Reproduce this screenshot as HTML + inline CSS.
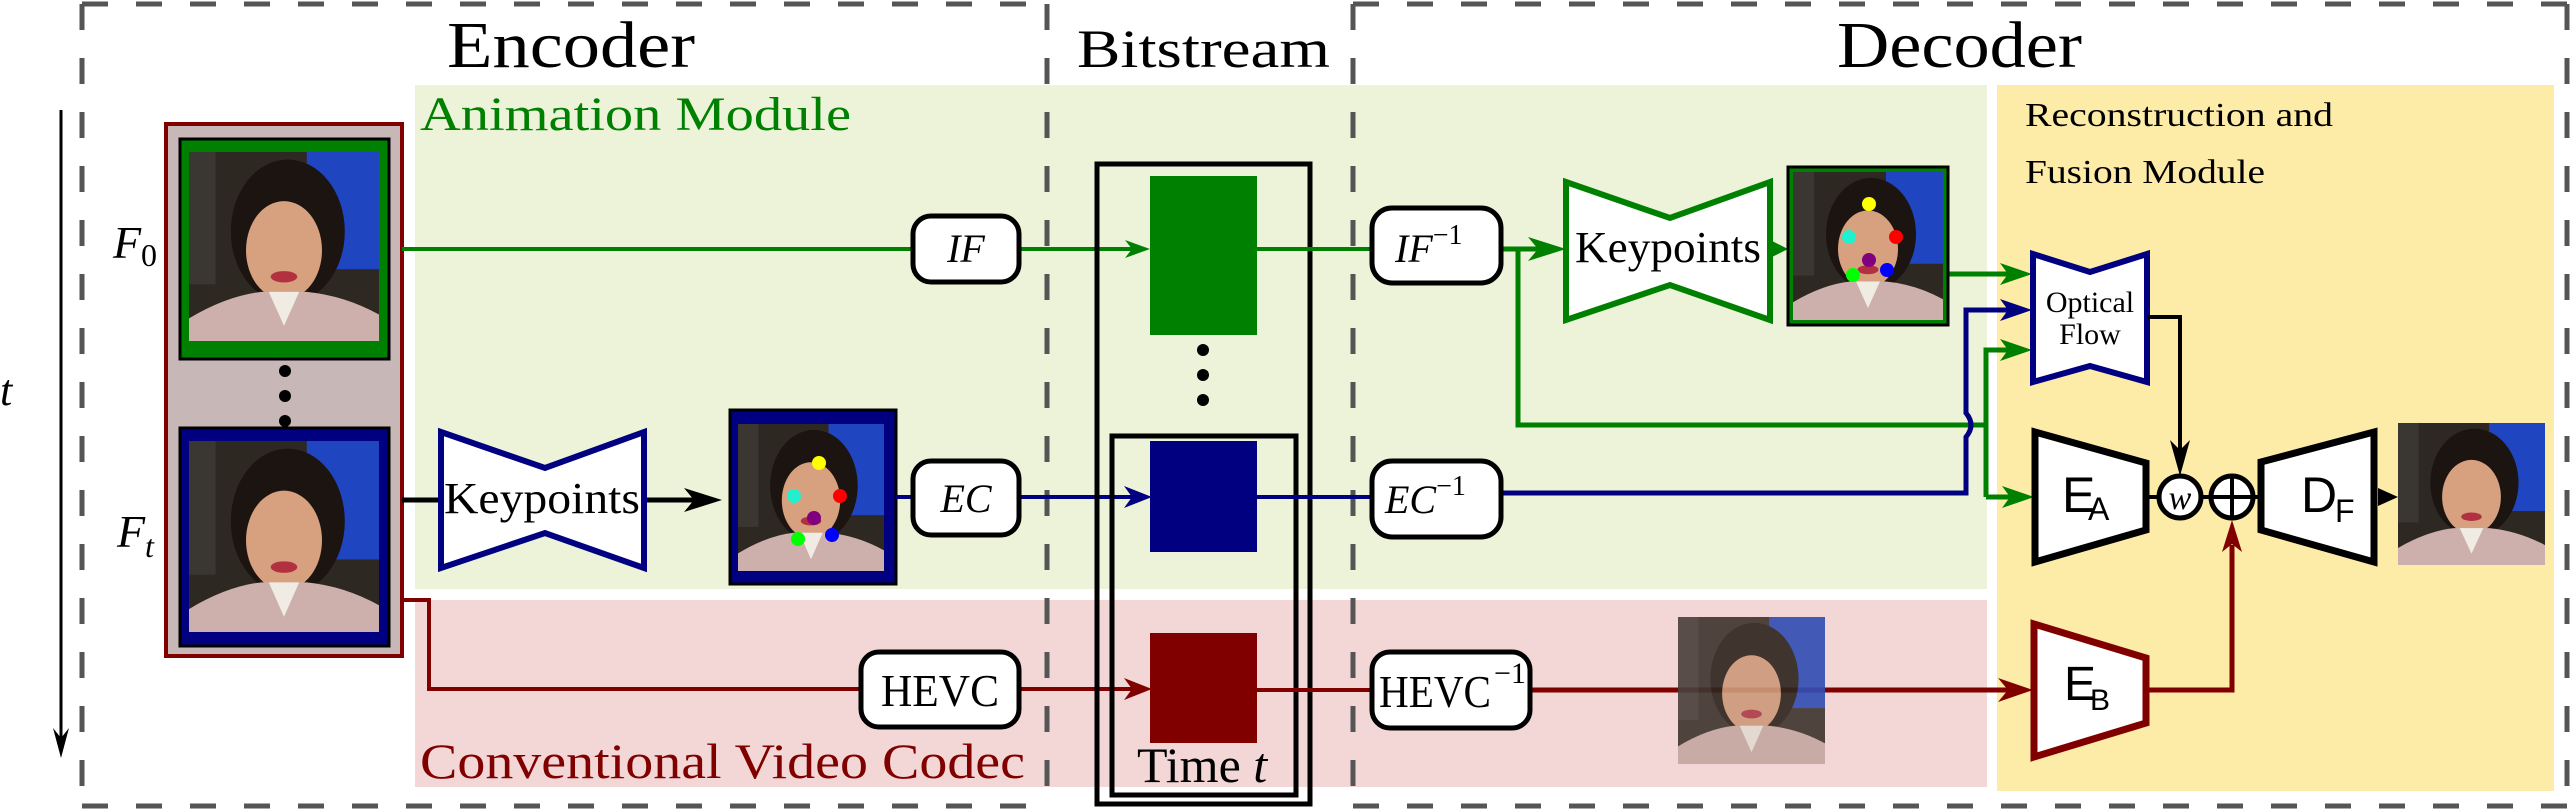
<!DOCTYPE html>
<html><head><meta charset="utf-8"><style>
html,body{margin:0;padding:0;background:#fff;}
svg{display:block;}
text{font-family:"Liberation Serif",serif;}
.sans{font-family:"Liberation Sans",sans-serif;}
</style></head><body>
<svg width="2570" height="810" viewBox="0 0 2570 810" xmlns="http://www.w3.org/2000/svg">
<defs>
<symbol id="face" viewBox="0 0 100 100" preserveAspectRatio="none">
<rect width="100" height="100" fill="#2e2823"/>
<rect x="0" y="0" width="14" height="70" fill="#3a3632"/>
<rect x="62" y="0" width="38" height="62" fill="#1f45c0"/>
<ellipse cx="52" cy="42" rx="30" ry="38" fill="#1b1410"/>
<ellipse cx="50" cy="52" rx="20" ry="26" fill="#d7a07e"/>
<path d="M0 100 L0 88 Q20 76 38 74 L62 74 Q82 76 100 86 L100 100 Z" fill="#cdb0ab"/>
<path d="M42 74 L50 92 L58 74 Z" fill="#f0ece4"/>
<ellipse cx="50" cy="66" rx="7" ry="3" fill="#b23040"/>
</symbol>
</defs>

<rect x="415" y="85" width="1572" height="504" fill="#ecf3d8"/>
<rect x="415" y="600" width="1572" height="187" fill="#f3d7d7"/>
<rect x="1997" y="85" width="557" height="706" fill="#fdeba8"/>

<g stroke="#555" stroke-width="5" stroke-dasharray="26 28" fill="none">
<line x1="82" y1="4" x2="1047" y2="4"/>
<line x1="82" y1="806" x2="1047" y2="806"/>
<line x1="82" y1="4" x2="82" y2="806"/>
<line x1="1047" y1="4" x2="1047" y2="806"/>
<line x1="1353" y1="4" x2="2567" y2="4"/>
<line x1="1353" y1="806" x2="2567" y2="806"/>
<line x1="1353" y1="4" x2="1353" y2="806"/>
<line x1="2567" y1="4" x2="2567" y2="806"/>
</g>

<text x="447" y="67" font-size="66" textLength="248" lengthAdjust="spacingAndGlyphs">Encoder</text>
<text x="1077" y="67" font-size="54" textLength="253" lengthAdjust="spacingAndGlyphs">Bitstream</text>
<text x="1837" y="67" font-size="66" textLength="245" lengthAdjust="spacingAndGlyphs">Decoder</text>
<text x="420" y="130" font-size="48" fill="#008000" textLength="431" lengthAdjust="spacingAndGlyphs">Animation Module</text>
<text x="420" y="778" font-size="50" fill="#800000" textLength="605" lengthAdjust="spacingAndGlyphs">Conventional Video Codec</text>
<text x="2025" y="126" font-size="34" textLength="308" lengthAdjust="spacingAndGlyphs">Reconstruction and</text>
<text x="2025" y="183" font-size="34" textLength="240" lengthAdjust="spacingAndGlyphs">Fusion Module</text>

<text x="0" y="405" font-size="44" font-style="italic">t</text>
<line x1="61" y1="110" x2="61" y2="740" stroke="#000" stroke-width="3"/>
<path d="M61 758 L53 728 L61 738 L69 728 Z" fill="#000"/>

<rect x="166" y="124" width="236" height="532" fill="#c7b7b7" stroke="#800000" stroke-width="4"/>
<rect x="180" y="139" width="209" height="220" fill="#008000" stroke="#000" stroke-width="3"/>
<use href="#face" x="189" y="152" width="190" height="189"/>
<rect x="180" y="428" width="209" height="218" fill="#000080" stroke="#000" stroke-width="3"/>
<use href="#face" x="189" y="441" width="190" height="191"/>
<circle cx="285" cy="371" r="6"/><circle cx="285" cy="396" r="6"/><circle cx="285" cy="421" r="6"/>
<text x="113" y="258" font-size="46" font-style="italic">F</text><text x="141" y="266" font-size="32">0</text>
<text x="117" y="547" font-size="46" font-style="italic">F</text><text x="145" y="557" font-size="32" font-style="italic">t</text>

<line x1="402" y1="249" x2="1140" y2="249" stroke="#008000" stroke-width="4"/>
<path d="M1150 249 L1125 240 L1132 249 L1125 258Z" fill="#008000"/>
<rect x="913" y="216" width="106" height="66" rx="18" fill="#fff" stroke="#000" stroke-width="5"/>
<text x="966" y="262" font-size="40" font-style="italic" text-anchor="middle">IF</text>

<line x1="402" y1="500" x2="700" y2="500" stroke="#000" stroke-width="5"/>
<path d="M722 500 L684 488 L694 500 L684 512Z" fill="#000"/>
<polygon points="441,432 545,468 644,432 644,568 545,533 441,568" fill="#fff" stroke="#000080" stroke-width="6"/>
<text x="542" y="513" font-size="44" text-anchor="middle" textLength="196" lengthAdjust="spacingAndGlyphs">Keypoints</text>
<rect x="730" y="410" width="166" height="174" fill="#000080" stroke="#000" stroke-width="3"/>
<use href="#face" x="738" y="424" width="146" height="147"/>
<circle cx="819" cy="463" r="7" fill="#ff0"/><circle cx="794" cy="496" r="7" fill="#20f0d0"/><circle cx="840" cy="496" r="7" fill="#f00"/>
<circle cx="814" cy="518" r="7" fill="#800080"/><circle cx="798" cy="539" r="7" fill="#0f0"/><circle cx="832" cy="535" r="7" fill="#00f"/>
<line x1="896" y1="497" x2="1145" y2="497" stroke="#000080" stroke-width="4"/>
<path d="M1152 497 L1124 486 L1132 497 L1124 508Z" fill="#000080"/>
<rect x="913" y="461" width="106" height="74" rx="18" fill="#fff" stroke="#000" stroke-width="5"/>
<text x="966" y="512" font-size="40" font-style="italic" text-anchor="middle">EC</text>

<polyline points="402,600 429,600 429,689 1140,689" fill="none" stroke="#800000" stroke-width="4"/>
<path d="M1152 689 L1124 678 L1132 689 L1124 700Z" fill="#800000"/>
<rect x="861" y="652" width="158" height="75" rx="18" fill="#fff" stroke="#000" stroke-width="5"/>
<text x="940" y="706" font-size="46" text-anchor="middle" textLength="118" lengthAdjust="spacingAndGlyphs">HEVC</text>

<rect x="1097" y="164" width="213" height="640" fill="none" stroke="#000" stroke-width="5"/>
<rect x="1112" y="436" width="184" height="359" fill="none" stroke="#000" stroke-width="5"/>
<rect x="1150" y="176" width="107" height="159" fill="#008000"/>
<rect x="1150" y="441" width="107" height="111" fill="#000080"/>
<rect x="1150" y="633" width="107" height="110" fill="#800000"/>
<circle cx="1203" cy="350" r="6"/><circle cx="1203" cy="375" r="6"/><circle cx="1203" cy="400" r="6"/>
<text x="1137" y="782" font-size="50">Time <tspan font-style="italic">t</tspan></text>
<line x1="1257" y1="249" x2="1372" y2="249" stroke="#008000" stroke-width="4"/>
<line x1="1257" y1="497" x2="1372" y2="497" stroke="#000080" stroke-width="4"/>
<line x1="1257" y1="690" x2="1372" y2="690" stroke="#800000" stroke-width="4"/>

<line x1="1501" y1="249" x2="1550" y2="249" stroke="#008000" stroke-width="5"/>
<path d="M1566 249 L1528 237 L1538 249 L1528 261Z" fill="#008000"/>
<polyline points="1518,249 1518,425 1986,425" fill="none" stroke="#008000" stroke-width="5"/>
<polyline points="1986,497 1986,350 2020,350" fill="none" stroke="#008000" stroke-width="5"/>
<path d="M2032 350 L2000 339 L2008 350 L2000 361Z" fill="#008000"/>
<line x1="1986" y1="497" x2="2020" y2="497" stroke="#008000" stroke-width="5"/>
<path d="M2034 497 L2002 486 L2010 497 L2002 508Z" fill="#008000"/>
<line x1="1948" y1="274" x2="2020" y2="274" stroke="#008000" stroke-width="5"/>
<path d="M2032 274 L2000 263 L2008 274 L2000 285Z" fill="#008000"/>
<path d="M1501 493 L1966 493 L1966 437 Q1976 425 1966 413 L1966 310 L2020 310" fill="none" stroke="#000080" stroke-width="5"/>
<path d="M2032 310 L2000 299 L2008 310 L2000 321Z" fill="#000080"/>

<rect x="1372" y="208" width="129" height="75" rx="20" fill="#fff" stroke="#000" stroke-width="5"/>
<text x="1395" y="262" font-size="40" font-style="italic">IF<tspan font-size="28" font-style="normal" dy="-18">−1</tspan></text>
<rect x="1372" y="461" width="129" height="76" rx="20" fill="#fff" stroke="#000" stroke-width="5"/>
<text x="1385" y="513" font-size="40" font-style="italic">EC<tspan font-size="28" font-style="normal" dy="-18">−1</tspan></text>

<polygon points="1566,182 1670,218 1770,182 1770,320 1670,285 1566,320" fill="#fff" stroke="#008000" stroke-width="6"/>
<text x="1668" y="262" font-size="44" text-anchor="middle" textLength="186" lengthAdjust="spacingAndGlyphs">Keypoints</text>
<path d="M1788 249 L1772 241 L1772 257Z" fill="#008000"/>
<rect x="1788" y="167" width="160" height="158" fill="#008000" stroke="#000" stroke-width="3"/>
<use href="#face" x="1793" y="172" width="150" height="148"/>
<circle cx="1869" cy="204" r="7" fill="#ff0"/><circle cx="1849" cy="237" r="7" fill="#20f0d0"/><circle cx="1896" cy="237" r="7" fill="#f00"/>
<circle cx="1869" cy="260" r="7" fill="#800080"/><circle cx="1853" cy="275" r="7" fill="#0f0"/><circle cx="1887" cy="270" r="7" fill="#00f"/>

<line x1="1530" y1="690" x2="2018" y2="690" stroke="#800000" stroke-width="5"/>
<path d="M2033 690 L1998 678 L2008 690 L1998 702Z" fill="#800000"/>
<rect x="1372" y="652" width="158" height="76" rx="18" fill="#fff" stroke="#000" stroke-width="5"/>
<text x="1379" y="707" font-size="46" textLength="112" lengthAdjust="spacingAndGlyphs">HEVC</text>
<text x="1494" y="683" font-size="30">−1</text>
<g opacity="0.9"><use href="#face" x="1678" y="617" width="147" height="147"/></g>
<rect x="1678" y="617" width="147" height="147" fill="#a08070" opacity="0.15"/>

<polygon points="2033,254 2090,272 2147,254 2147,382 2090,366 2033,382" fill="#fff" stroke="#000080" stroke-width="6"/>
<text x="2090" y="312" font-size="30" text-anchor="middle">Optical</text>
<text x="2090" y="344" font-size="30" text-anchor="middle">Flow</text>
<polyline points="2147,317 2180,317 2180,460" fill="none" stroke="#000" stroke-width="4"/>
<path d="M2180 476 L2170 440 L2180 450 L2190 440Z" fill="#000"/>

<polygon points="2035,432 2146,463 2146,530 2035,562" fill="#fff" stroke="#000" stroke-width="7"/>
<text class="sans" x="2062" y="512" font-size="50">E</text><text class="sans" x="2088" y="520" font-size="32">A</text>
<line x1="2146" y1="497" x2="2260" y2="497" stroke="#000" stroke-width="4"/>
<circle cx="2180" cy="497" r="21" fill="#fff" stroke="#000" stroke-width="5"/>
<text x="2180" y="509" font-size="34" font-style="italic" text-anchor="middle">w</text>
<circle cx="2232" cy="497" r="21" fill="#fff" stroke="#000" stroke-width="5"/>
<line x1="2211" y1="497" x2="2253" y2="497" stroke="#000" stroke-width="4"/>
<line x1="2232" y1="476" x2="2232" y2="518" stroke="#000" stroke-width="4"/>
<polygon points="2261,462 2374,432 2374,562 2261,530" fill="#fff" stroke="#000" stroke-width="7"/>
<text class="sans" x="2301" y="512" font-size="50">D</text><text class="sans" x="2335" y="522" font-size="32">F</text>
<path d="M2398 497 L2378 488 L2378 506Z" fill="#000"/>
<use href="#face" x="2398" y="423" width="147" height="142"/>

<polygon points="2034,624 2146,658 2146,723 2034,757" fill="#fff" stroke="#800000" stroke-width="7"/>
<text class="sans" x="2064" y="700" font-size="48">E</text><text class="sans" x="2090" y="710" font-size="30">B</text>
<polyline points="2146,690 2232,690 2232,545" fill="none" stroke="#800000" stroke-width="5"/>
<path d="M2232 520 L2222 552 L2232 544 L2242 552Z" fill="#800000"/>
</svg>
</body></html>
